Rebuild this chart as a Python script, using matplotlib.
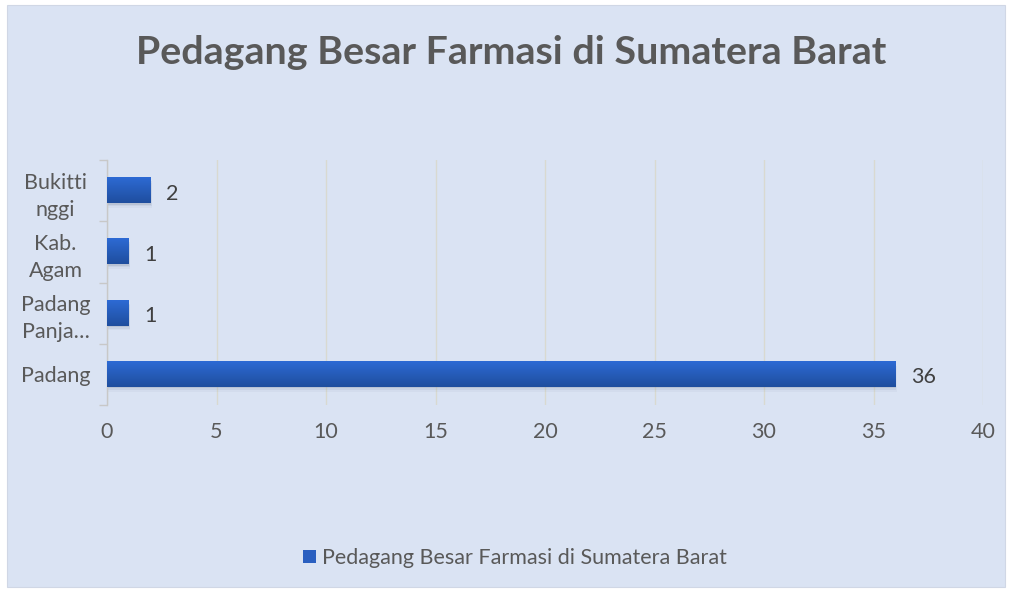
import matplotlib
matplotlib.use("Agg")
import matplotlib.pyplot as plt
import numpy as np
from matplotlib.patches import Rectangle
from matplotlib.colors import LinearSegmentedColormap

categories = ["Padang", "Padang\nPanja…", "Kab.\nAgam", "Bukitti\nnggi"]
values = [36, 1, 1, 2]
series_name = "Pedagang Besar Farmasi di Sumatera Barat"
title = "Pedagang Besar Farmasi di Sumatera Barat"
xticks = [0, 5, 10, 15, 20, 25, 30, 35, 40]

plt.rcParams['font.family'] = ['Lato', 'DejaVu Sans']
bg = "#DAE3F3"
text_col = "#595959"
fs = 15.5

fig = plt.figure(figsize=(10.12, 5.91), dpi=100)
fig.patch.set_facecolor("white")
fig.patches.append(Rectangle((7/1012, 1-587/591), (1005-7)/1012, (587-5)/591,
                             transform=fig.transFigure, facecolor=bg,
                             edgecolor="#D0D7E5", linewidth=0.8, zorder=-5))

ax = fig.add_axes([107/1012, 1-405/591, (983-107)/1012, (405-160)/591])
ax.set_facecolor("none")
ax.set_zorder(2)

ypos = np.arange(len(categories))
h = 0.41
cmap = LinearSegmentedColormap.from_list("g", ["#1F4E9E", "#2D6AD4"])
grad = np.linspace(0, 1, 100).reshape(-1, 1)
for y, v in zip(ypos, values):
    for k, a in [(1, 0.18), (2, 0.10), (3, 0.06)]:
        ax.add_patch(Rectangle((0.02 * k, y - h/2 - 0.025 * k), v, h, facecolor="#6E7B94",
                               alpha=a, edgecolor="none", zorder=2))
    ax.imshow(grad, extent=[0, v, y - h/2, y + h/2], aspect="auto", cmap=cmap,
              origin="lower", zorder=3)
    ax.text(v + 0.7, y - 0.05, str(v), va="center", ha="left", fontsize=fs,
            color="#404040", zorder=4)

ax.set_xlim(0, 40)
ax.set_ylim(-0.5, len(categories) - 0.5)
ax.set_xticks(xticks)
ax.set_xticklabels([str(t) for t in xticks], fontsize=fs, color=text_col)
ax.set_yticks(ypos)
ax.set_yticklabels(categories, fontsize=fs, color=text_col, multialignment="center",
                   ha="center", linespacing=1.45)
ax.tick_params(axis="y", which="major", length=0, pad=37)
ax.set_yticks(np.arange(-0.5, len(categories), 1), minor=True)
ax.tick_params(axis="y", which="minor", length=6, color="#C8C8C8", width=1)
ax.tick_params(axis="x", length=0, pad=12)
ax.grid(axis="x", color="#D9D9D0", linewidth=1, zorder=1)
ax.set_axisbelow(True)
for s in ["top", "right", "bottom"]:
    ax.spines[s].set_visible(False)
ax.spines["left"].set_color("#C8C8C8")
ax.spines["left"].set_linewidth(1)

fig.text(511/1012, 1-52/591, title, ha="center", va="center", fontsize=28.4,
         fontweight="bold", color=text_col)

handle = Rectangle((0, 0), 1, 1, facecolor="#2A5FC0", edgecolor="none")
fig.legend([handle], [series_name], loc="center", bbox_to_anchor=(515/1012, 1-558/591),
           frameon=False, fontsize=fs, labelcolor=text_col, handlelength=0.6,
           handleheight=0.6, handletextpad=0.3)

fig.savefig("out.png", dpi=100, facecolor=fig.get_facecolor())
